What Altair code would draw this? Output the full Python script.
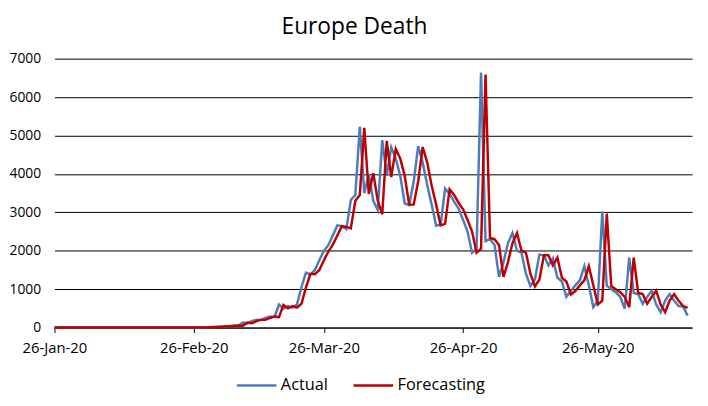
import altair as alt
import pandas as pd

start_date = "2020-01-26"
series_names = ["Actual", "Forecasting"]
series_colors = ["#4A7EBB", "#C00000"]

# daily values from 26-Jan-20 to 15-Jun-20
actual = [
    0, 0, 0, 0, 0, 0, 0, 0, 0, 0, 0, 0, 0, 0, 0, 0, 0, 0, 0, 0, 0, 0, 0, 0, 0, 0,
    1, 1, 3, 4, 3, 3, 4, 4, 8,
    12, 18, 27, 30, 40, 55, 50, 130, 110, 170, 200, 200, 250, 290, 270, 600,
    490, 560, 520, 600, 1050, 1430, 1380, 1500, 1760, 1990, 2150, 2400, 2660, 2640, 2560,
    3320, 3450, 5230, 3500, 4000, 3300, 3060, 4880, 3950, 4690, 4400, 3950, 3230, 3190, 3800,
    4720, 4300, 3720, 3200, 2650, 2680, 3620, 3480, 3280, 3100, 2800, 2500, 1950, 2050, 6640,
    2250, 2300, 2150, 1320, 1700, 2200, 2460, 2000, 1950, 1400, 1080, 1250, 1900, 1880, 1620,
    1800, 1300, 1200, 800, 950, 1100, 1230, 1600, 1100, 530, 700, 3020, 1090, 1000, 920, 800,
    490, 1820, 900, 870, 620, 800, 960, 600, 400, 700, 870, 700, 560, 550, 310,
]

forecast = [
    0, 0, 0, 0, 0, 0, 0, 0, 0, 0, 0, 0, 0, 0, 0, 0, 0, 0, 0, 0, 0, 0, 0, 0, 0, 0, 0,
    1, 1, 3, 4, 3, 3, 4, 4,
    8, 12, 18, 27, 30, 40, 55, 50, 130, 110, 170, 200, 200, 250, 290, 270,
    590, 500, 560, 520, 620, 1040, 1400, 1390, 1500, 1750, 1980, 2160, 2400, 2640, 2620,
    2580, 3300, 3450, 5200, 3480, 4020, 3300, 2950, 4860, 3920, 4650, 4400, 3950, 3200, 3200,
    3800, 4700, 4300, 3700, 3200, 2660, 2700, 3600, 3450, 3250, 3080, 2800, 2500, 1950, 2050,
    6590, 2330, 2300, 2150, 1320, 1700, 2200, 2460, 2000, 1950, 1400, 1070, 1250, 1880, 1880,
    1620, 1820, 1300, 1200, 860, 950, 1100, 1230, 1600, 1100, 600, 700, 2970, 1080, 1000, 920,
    800, 530, 1820, 900, 870, 620, 800, 960, 600, 400, 700, 870, 700, 560, 510,
]

y_ticks = [0, 1000, 2000, 3000, 4000, 5000, 6000, 7000]
x_tick_dates = [(2020, 1, 26), (2020, 2, 26), (2020, 3, 26), (2020, 4, 26), (2020, 5, 26)]
x_domain = [(2020, 1, 26), (2020, 6, 16)]

dates = list(pd.date_range(start_date, periods=len(actual), freq="D").strftime("%Y-%m-%d"))
df = pd.DataFrame({
    "date": dates + dates,
    "value": actual + forecast,
    "series": [series_names[0]] * len(actual) + [series_names[1]] * len(forecast),
})

def dt(t):
    return alt.DateTime(year=t[0], month=t[1], date=t[2], utc=True)

FONT = "Open Sans"

chart = alt.Chart(df).mark_line(strokeWidth=2.5).encode(
    x=alt.X(
        "date:T",
        scale=alt.Scale(type="utc", domain=[dt(d) for d in x_domain]),
        axis=alt.Axis(
            values=[dt(d) for d in x_tick_dates],
            labelExpr="utcFormat(datum.value, '%d-%b-%y')",
            title=None,
            grid=False,
            domainColor="#000000",
            domainWidth=1,
            tickColor="#000000",
            tickSize=5,
            labelPadding=8,
            labelFont=FONT,
            labelFontSize=15,
            labelColor="#000000",
            labelFlush=False,
        ),
    ),
    y=alt.Y(
        "value:Q",
        scale=alt.Scale(domain=[0, 7000], nice=False),
        axis=alt.Axis(
            values=y_ticks,
            format="d",
            title=None,
            grid=True,
            gridColor="#000000",
            gridWidth=1,
            domain=False,
            ticks=False,
            labelPadding=14,
            labelFont=FONT,
            labelFontSize=14,
            labelColor="#000000",
        ),
    ),
    color=alt.Color(
        "series:N",
        scale=alt.Scale(domain=series_names, range=series_colors),
        legend=alt.Legend(
            title=None,
            orient="none",
            direction="horizontal",
            legendX=183,
            legendY=309,
            symbolType="stroke",
            symbolSize=1600,
            symbolStrokeWidth=2.5,
            labelFont=FONT,
            labelFontSize=16.5,
            labelColor="#000000",
            labelOffset=3,
            columnPadding=20,
        ),
    ),
).properties(
    width=645,
    height=272,
    autosize="none",
    padding={"left": 47, "top": 49, "right": 8, "bottom": 69},
    title=alt.Title(
        "Europe Death",
        font=FONT,
        fontSize=23,
        fontWeight="normal",
        color="#000000",
        anchor="middle",
        dx=-19,
        offset=13,
    ),
).configure_view(stroke=None)

chart.save("out.html", embed_options={"renderer": "svg", "actions": False})
